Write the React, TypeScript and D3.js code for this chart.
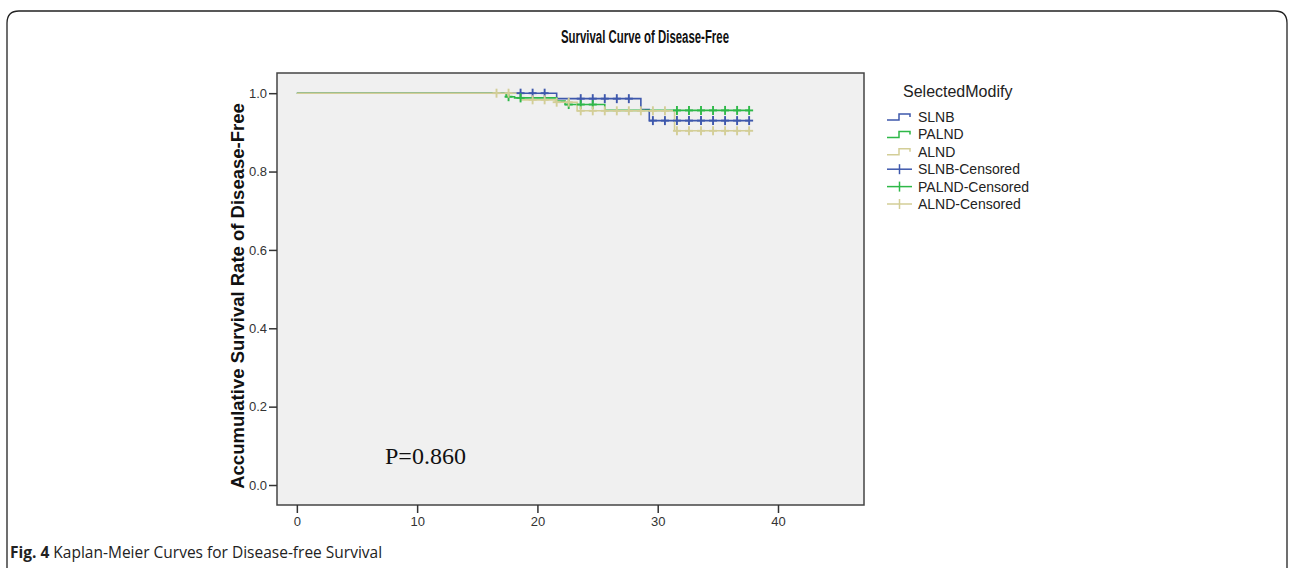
import React, { useEffect, useRef } from 'react';
import * as d3 from 'd3';

const groups = ['SLNB', 'PALND', 'ALND'];
const colors = ['#3e58ac', '#2eb848', '#d3ce97'];

// event times (months) and the survival level after each event
const slnbEventTimes = [21.6, 28.6, 29.3];
const slnbSurvival = [0.986, 0.958, 0.93];
const slnbCensored = [18.6, 19.6, 20.6, 23.6, 24.6, 25.6, 26.6, 27.6, 29.6, 30.6, 31.6, 32.6, 33.6, 34.6, 35.6, 36.6, 37.6];

const palndEventTimes = [17.4, 18.1, 21.6, 22.3, 25.6];
const palndSurvival = [0.991, 0.988, 0.98, 0.971, 0.956];
const palndCensored = [17.6, 18.6, 22.6, 23.6, 24.6, 31.6, 32.6, 33.6, 34.6, 35.6, 36.6, 37.6];

const alndEventTimes = [18.6, 21.5, 23.3, 31.4];
const alndSurvival = [0.983, 0.977, 0.955, 0.904];
const alndCensored = [16.6, 17.6, 19.6, 20.6, 21.6, 22.6, 23.6, 24.6, 25.6, 26.6, 27.6, 28.6, 29.6, 30.6, 31.6, 32.6, 33.6, 34.6, 35.6, 36.6, 37.6];

const xTicks = [0, 10, 20, 30, 40];
const yTicks = [0, 0.2, 0.4, 0.6, 0.8, 1.0];
const legendLabels = ['SLNB', 'PALND', 'ALND', 'SLNB-Censored', 'PALND-Censored', 'ALND-Censored'];

const App = () => {
  const svgRef = useRef<SVGSVGElement>(null);

  useEffect(() => {
    const svg = d3.select(svgRef.current);
    svg.selectAll('*').remove();

    const left = 277, right = 864, top = 73, bottom = 505;
    const x = d3.scaleLinear().domain([-1.65, 47.15]).range([left, right]);
    const y = d3.scaleLinear().domain([-0.051, 1.0515]).range([bottom, top]);

    const sans = 'Arial, "Liberation Sans", sans-serif';

    // card outline
    svg.append('path')
      .attr('d', 'M7,568 V23 Q7,11 19,11 H1275 Q1287,11 1287,23 V568')
      .attr('fill', 'none')
      .attr('stroke', '#222')
      .attr('stroke-width', 1.3);

    svg.append('text')
      .attr('x', 645).attr('y', 43)
      .attr('text-anchor', 'middle')
      .attr('font-family', sans)
      .attr('font-weight', 'bold')
      .attr('font-size', 18)
      .attr('textLength', 168)
      .attr('lengthAdjust', 'spacingAndGlyphs')
      .attr('fill', '#111')
      .text('Survival Curve of Disease-Free');

    // plot frame
    svg.append('rect')
      .attr('x', left).attr('y', top)
      .attr('width', right - left).attr('height', bottom - top)
      .attr('fill', '#f0f0f0')
      .attr('stroke', '#444')
      .attr('stroke-width', 1.5);

    const yAxis = svg.append('g')
      .attr('transform', `translate(${left},0)`)
      .call(d3.axisLeft(y).tickValues(yTicks).tickFormat(d3.format('.1f')).tickSize(8).tickSizeOuter(0).tickPadding(2));
    const xAxis = svg.append('g')
      .attr('transform', `translate(0,${bottom})`)
      .call(d3.axisBottom(x).tickValues(xTicks).tickSize(8).tickSizeOuter(0).tickPadding(4));
    [yAxis, xAxis].forEach((g) => {
      g.select('.domain').remove();
      g.selectAll('line').attr('stroke', '#333').attr('stroke-width', 1.5);
      g.selectAll('text').attr('font-family', sans).attr('font-size', 13).attr('fill', '#333');
    });

    svg.append('text')
      .attr('transform', `translate(238,296) rotate(-90)`)
      .attr('dy', '0.35em')
      .attr('text-anchor', 'middle')
      .attr('font-family', sans)
      .attr('font-weight', 'bold')
      .attr('font-size', 18.5)
      .attr('fill', '#111')
      .text('Accumulative Survival Rate of Disease-Free');

    const eventTimes = [slnbEventTimes, palndEventTimes, alndEventTimes];
    const survival = [slnbSurvival, palndSurvival, alndSurvival];
    const censored = [slnbCensored, palndCensored, alndCensored];

    const survAt = (g: number, t: number) => {
      let s = 1;
      eventTimes[g].forEach((et, i) => { if (et <= t) s = survival[g][i]; });
      return s;
    };

    const line = d3.line<[number, number]>()
      .x((d) => x(d[0]))
      .y((d) => y(d[1]))
      .curve(d3.curveStepAfter);

    groups.forEach((_, g) => {
      const end = d3.max(censored[g]) as number;
      const pts: [number, number][] = [[0, 1]];
      eventTimes[g].forEach((t, i) => pts.push([t, survival[g][i]]));
      pts.push([end, survAt(g, end)]);
      svg.append('path')
        .attr('d', line(pts))
        .attr('fill', 'none')
        .attr('stroke', colors[g])
        .attr('stroke-width', 1.6);
    });

    groups.forEach((_, g) => {
      const marks = svg.append('g').attr('stroke', colors[g]).attr('stroke-width', 1.9);
      censored[g].forEach((t) => {
        const cx = x(t), cy = y(survAt(g, t));
        marks.append('line').attr('x1', cx - 4).attr('x2', cx + 4).attr('y1', cy).attr('y2', cy);
        marks.append('line').attr('x1', cx).attr('x2', cx).attr('y1', cy - 4.5).attr('y2', cy + 4.5);
      });
    });

    svg.append('text')
      .attr('x', 385).attr('y', 464)
      .attr('font-family', '"Liberation Serif", "Times New Roman", serif')
      .attr('font-size', 24)
      .attr('fill', '#111')
      .text('P=0.860');

    // legend
    svg.append('text')
      .attr('x', 903).attr('y', 97)
      .attr('font-family', sans)
      .attr('font-size', 16)
      .attr('fill', '#222')
      .text('SelectedModify');

    legendLabels.forEach((label, i) => {
      const cy = 117 + i * 17.4;
      const c = colors[i % 3];
      if (i < 3) {
        svg.append('path')
          .attr('d', `M887,${cy + 3} H899 V${cy - 3} H910 V${cy}`)
          .attr('fill', 'none').attr('stroke', c).attr('stroke-width', 1.5);
      } else {
        svg.append('line').attr('x1', 887).attr('x2', 912).attr('y1', cy).attr('y2', cy)
          .attr('stroke', c).attr('stroke-width', 1.5);
        svg.append('line').attr('x1', 899.5).attr('x2', 899.5).attr('y1', cy - 5).attr('y2', cy + 5)
          .attr('stroke', c).attr('stroke-width', 1.5);
      }
      svg.append('text')
        .attr('x', 918).attr('y', cy + 5)
        .attr('font-family', sans)
        .attr('font-size', 14)
        .attr('fill', '#222')
        .text(label);
    });

    // caption
    const cap = svg.append('text')
      .attr('x', 10).attr('y', 558)
      .attr('font-family', '"Open Sans", sans-serif')
      .attr('font-size', 15.5)
      .attr('fill', '#222');
    cap.append('tspan').attr('font-weight', 'bold').text('Fig. 4');
    cap.append('tspan').text(' Kaplan-Meier Curves for Disease-free Survival');
  }, []);

  return <svg ref={svgRef} width={1292} height={568} style={{ position: 'absolute', left: 0, top: 0 }} />;
};

export default App;
